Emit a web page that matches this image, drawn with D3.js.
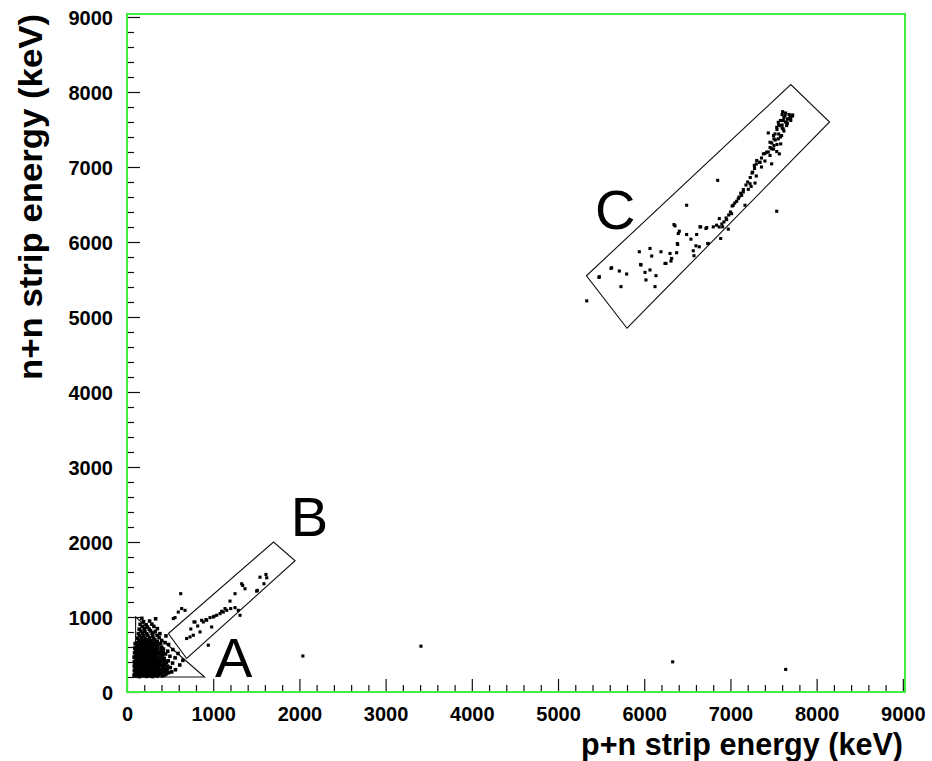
<!DOCTYPE html>
<html><head><meta charset="utf-8">
<script src="https://cdn.jsdelivr.net/npm/d3@7"></script>
<style>body{margin:0;background:#fff} svg{display:block}</style>
</head><body>
<svg id="chart" width="932" height="761"></svg>
<script>
// ---- data (keV) ----
const xTickValues = [0,1000,2000,3000,4000,5000,6000,7000,8000,9000];
const yTickValues = [0,1000,2000,3000,4000,5000,6000,7000,8000,9000];
const xTitle = "p+n strip energy (keV)";
const yTitle = "n+n strip energy (keV)";

const cutA = [[100,1000],[100,200],[900,200]];
const cutB = [[480,780],[1700,2000],[1950,1750],[692,447]];
const cutC = [[5330,5550],[7700,8100],[8150,7600],[5800,4850]];

const regionLabels = ["A","B","C"];
const regionLabelX = [1021,1899,5429];
const regionLabelY = [200,2085,6175];

const clusterA = [
[100,212],[142,205],[178,215],[224,208],[262,214],[298,206],[352,212],[408,215],
[92,238],[128,244],[163,236],[207,242],[248,235],[288,246],[333,238],[378,243],[452,240],
[112,268],[148,274],[193,266],[232,272],[277,268],[318,275],[362,266],[428,272],[518,268],
[96,302],[137,296],[172,304],[218,298],[258,305],[302,296],[343,303],[398,298],[468,305],[562,297],
[106,328],[146,335],[188,326],[232,334],[268,328],[322,336],[363,327],[422,333],[502,326],
[91,362],[131,356],[172,365],[208,358],[252,364],[288,356],[337,363],[382,358],[438,365],[612,360],
[116,388],[154,394],[197,386],[238,393],[282,387],[323,395],[372,388],[456,392],[528,386],
[101,418],[142,425],[178,416],[227,424],[263,417],[307,426],[348,418],[402,424],[478,416],[648,422],
[121,452],[158,446],[202,455],[243,447],[292,454],[328,446],[377,453],[432,448],[558,455],
[96,478],[137,485],[173,476],[217,484],[258,477],[302,486],[343,478],[412,483],[498,476],
[112,512],[148,506],[192,515],[233,507],[277,514],[318,506],[367,513],[448,507],[592,514],
[102,538],[138,545],[182,536],[218,544],[267,537],[308,546],[382,538],[472,544],
[122,572],[158,566],[203,575],[243,567],[292,574],[338,566],[422,573],[532,566],
[107,598],[152,604],[188,596],[232,605],[273,597],[322,604],[402,598],
[127,632],[168,626],[217,635],[258,627],[302,634],[358,626],[482,633],
[112,658],[152,665],[193,656],[242,664],[283,657],[342,666],[442,658],
[137,692],[178,686],[227,695],[268,687],[322,694],[402,686],
[122,718],[167,726],[208,716],[262,724],[308,717],[372,725],
[147,752],[193,746],[242,755],[298,747],[352,754],[452,748],
[132,778],[182,786],[228,777],[292,785],[382,778],
[162,812],[208,806],[272,815],[328,807],
[142,838],[202,846],[258,837],[352,845],
[177,872],[238,866],[312,875],
[152,902],[222,896],[288,905],
[192,938],[262,946],
[172,982],[332,976],
[82,225],[120,226],[160,223],[200,227],[242,224],[280,226],[318,222],[365,227],[430,225],
[108,255],[145,257],[185,254],[226,256],[266,253],[305,257],[348,255],[400,254],[480,256],
[85,285],[125,287],[165,284],[205,286],[246,283],[288,287],[330,285],[378,284],[445,286],
[118,315],[158,317],[198,314],[240,316],[280,313],[318,317],[368,315],[440,314],
[84,345],[122,347],[160,344],[200,346],[240,343],[282,347],[320,345],[355,344],[410,346],[470,345],
[108,375],[148,377],[190,374],[228,376],[268,373],[310,377],[352,375],[410,374],
[85,405],[125,407],[165,404],[205,406],[248,403],[290,407],[330,405],[385,404],[440,406],
[110,435],[150,437],[190,434],[232,436],[272,433],[315,437],[360,435],[410,434],
[82,465],[128,467],[168,464],[208,466],[250,463],[285,467],[330,465],[400,464],
[120,495],[160,497],[200,494],[245,496],[285,493],[330,497],[385,495],
[88,525],[128,527],[168,524],[208,526],[250,523],[290,527],[345,525],[420,524],
[110,555],[150,557],[190,554],[232,556],[275,553],[325,557],[400,555],
[90,585],[135,587],[175,584],[215,586],[258,583],[300,587],[360,585],
[115,615],[160,617],[200,614],[245,616],[285,613],[330,617],
[95,645],[135,647],[178,644],[222,646],[265,643],[310,647],[390,645],
[148,675],[190,677],[235,674],[280,676],[350,675]
];

const bandB = [
[623,1311],[634,1112],[673,1089],[595,1066],[557,992],[537,979],
[777,934],[866,956],[916,966],[963,992],[1009,1009],[1040,1023],[1079,1045],
[1117,1066],[1157,1089],[1203,1112],[1253,1125],[1195,1212],[1253,1311],
[1330,1443],[1369,1377],[1342,1421],[1543,1531],[1612,1567],[1589,1443],
[1504,1345],[1512,1355],[1621,1523],[1291,1089],[1311,1023],
[982,867],[847,801],[769,757],[731,734],[692,713],[943,624],
[789,934],[885,934],[924,956],[1001,1000],[1098,1076],[1137,1112],[820,880],[740,840]
];

const bandC = [
[5333,5215],[5475,5528],[5614,5648],[5711,5613],[5796,5573],[5730,5405],
[5943,5870],[5959,5701],[6009,5595],[6067,5627],[6067,5914],[6087,5813],
[6136,5551],[6020,5494],[6125,5405],[6194,5870],[6299,5847],[6241,5714],
[6310,5746],[6376,5857],[6384,5980],[6357,6215],[6395,6113],[6492,6490],
[6492,6100],[6569,5883],[6600,5949],[6647,6202],[6725,6193],[6736,5980],
[6801,6202],[6840,6224],[6871,6312],[6887,6047],[6910,6202],[6925,6268],
[6956,6299],[6975,6171],[6852,6822],[7014,6378],[7033,6490],[7072,6543],
[7091,6578],[7130,6622],[7149,6667],[7169,6490],[7207,6702],[7227,6777],
[7285,6786],[7258,6932],[7277,7021],[7305,7087],[7537,6410],[7343,7065],
[7382,7175],[7420,7198],[7459,7154],[7478,7042],[7459,7330],[7505,7286],
[7537,7206],[7567,7175],[7439,7454],[7517,7441],[7555,7375],[7583,7308],
[7537,7530],[7575,7552],[7613,7507],[7555,7596],[7613,7619],[7652,7596],
[7671,7641],[7633,7685],[7691,7685],[7606,7738],[7722,7694],[7652,7552],
[7594,7419],[7505,7375],[7478,7242],
[6345,6232],[6407,6144],[6655,6202],[6716,6180],[6608,6100],[6542,6038],
[6388,5967],[6318,5781],[6252,5714],[6639,5936],[6743,5980],[6577,5817],
[5962,5693],[5622,5657],[5479,5538],
[7600,7700],[7640,7720],[7680,7700],[7700,7660],[7660,7640],[7620,7660],
[7580,7620],[7640,7600],[7700,7620],[7720,7680],[7560,7560],[7600,7560],
[7660,7580],[7540,7500],[7600,7520],[7620,7480],[7560,7440],[7500,7420],
[7580,7400],[7520,7360],[7480,7320],[7540,7300],[7460,7260],[7500,7240],
[7440,7200],[7400,7180],[7360,7120],[7400,7080],[7340,7060],[7300,7040],
[7360,7000],[7280,6980],[7250,6920],[7300,6880],[7230,6860],[7200,6800],
[7180,6760],[7240,6740],[7150,6700],[7120,6650],[7100,6600],[7050,6520],
[7020,6480],[7000,6400],[6980,6360],[6950,6320],[6900,6240],[6870,6200]
];

const strays = [[2040,480],[3410,611],[6330,402],[7641,301]];

// ---- drawing ----
const svg = d3.select("#chart");
const L = 127, R = 905, T = 14, B = 692;
const x = d3.scaleLinear().domain([0, 9025]).range([L, R]);
const y = d3.scaleLinear().domain([0, 9040]).range([B, T]);

const minorX = d3.range(0, 9001, 200).filter(v => v % 1000 !== 0);
const minorY = d3.range(0, 9001, 200).filter(v => v % 1000 !== 0);

const font = "'Liberation Sans', Arial, Helvetica, sans-serif";

// axes
const gx = svg.append("g").attr("transform", `translate(0,${B})`)
  .call(d3.axisBottom(x).tickValues(xTickValues).tickSize(-13).tickPadding(15).tickFormat(d3.format("d")));
const gxm = svg.append("g").attr("transform", `translate(0,${B})`)
  .call(d3.axisBottom(x).tickValues(minorX).tickSize(-7).tickFormat(""));
const gy = svg.append("g").attr("transform", `translate(${L},0)`)
  .call(d3.axisLeft(y).tickValues(yTickValues).tickSize(-13).tickPadding(14).tickFormat(d3.format("d")));
const gym = svg.append("g").attr("transform", `translate(${L},0)`)
  .call(d3.axisLeft(y).tickValues(minorY).tickSize(-7).tickFormat(""));
[gx,gxm,gy,gym].forEach(g => {
  g.select(".domain").remove();
  g.selectAll(".tick line").attr("stroke", "#111").attr("stroke-width", 1.2);
  g.selectAll(".tick text").attr("font-family", font).attr("font-weight", "bold")
    .attr("font-size", 20).attr("fill", "#000");
});
gy.selectAll(".tick text").attr("dy", "0.36em");

// cut polygons
const line = d3.line().x(d => x(d[0])).y(d => y(d[1])).curve(d3.curveLinearClosed);
svg.append("g").selectAll("path").data([cutA, cutB, cutC]).join("path")
  .attr("d", line).attr("fill", "none").attr("stroke", "#111").attr("stroke-width", 1.1);

// points
const sA = 3.6, s = 3.1;
svg.append("g").selectAll("rect").data(clusterA).join("rect")
  .attr("x", d => x(d[0]) - sA/2).attr("y", d => y(d[1]) - sA/2)
  .attr("width", sA).attr("height", sA).attr("fill", "#000");
svg.append("g").selectAll("rect").data(bandB.concat(bandC, strays)).join("rect")
  .attr("x", d => x(d[0]) - s/2).attr("y", d => y(d[1]) - s/2)
  .attr("width", s).attr("height", s).attr("fill", "#000");

// frame
svg.append("rect").attr("x", L).attr("y", T).attr("width", R - L).attr("height", B - T)
  .attr("fill", "none").attr("stroke", "#40ee40").attr("stroke-width", 2);

// region labels
svg.append("g").selectAll("text").data(regionLabels).join("text")
  .attr("x", (d,i) => x(regionLabelX[i])).attr("y", (d,i) => y(regionLabelY[i]))
  .attr("font-family", font).attr("font-size", 56).attr("fill", "#000")
  .text(d => d);

// titles
svg.append("text").attr("x", 903).attr("y", 755).attr("text-anchor", "end")
  .attr("font-family", font).attr("font-weight", "bold").attr("font-size", 32)
  .attr("textLength", 322).attr("lengthAdjust", "spacingAndGlyphs")
  .text(xTitle);
svg.append("text").attr("transform", "translate(42,380) rotate(-90)").attr("text-anchor", "start")
  .attr("font-family", font).attr("font-weight", "bold").attr("font-size", 34)
  .attr("textLength", 366).attr("lengthAdjust", "spacingAndGlyphs")
  .text(yTitle);
</script></body></html>
